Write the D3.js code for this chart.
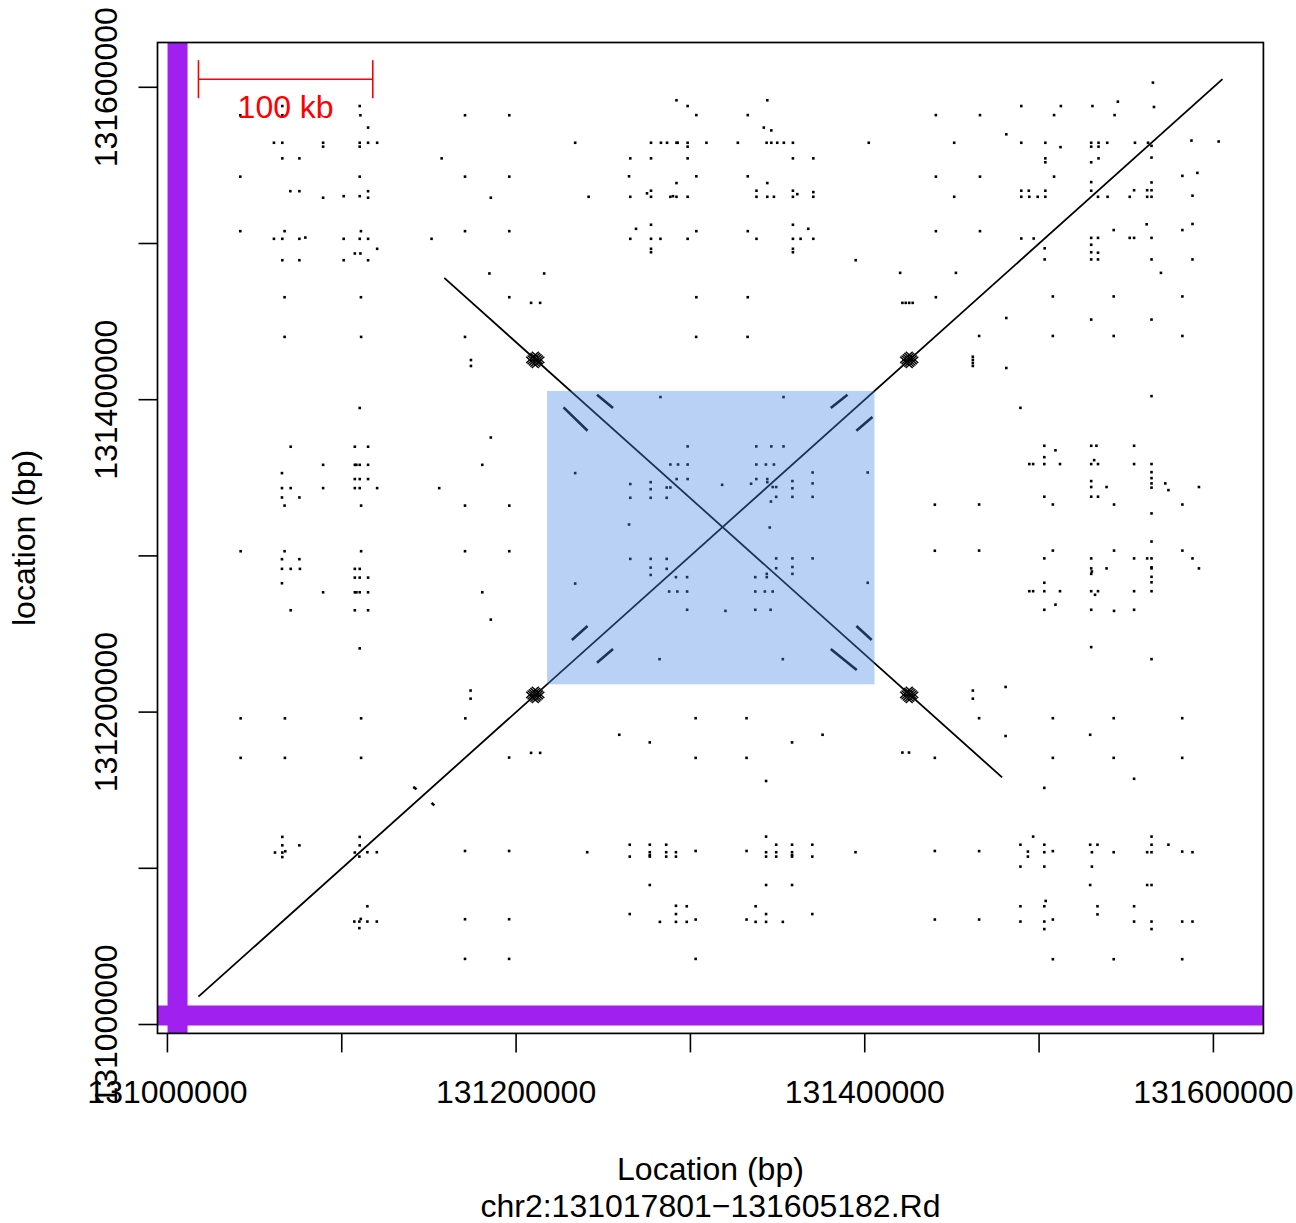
<!DOCTYPE html>
<html>
<head>
<meta charset="utf-8">
<script src="https://cdn.jsdelivr.net/npm/d3@7/dist/d3.min.js"></script>
<style>
  body { margin: 0; background: #fff; }
  svg { display: block; }
  text { font-family: "Liberation Sans", Arial, Helvetica, sans-serif; }
</style>
</head>
<body>
<svg id="chart"></svg>
<script>
const width = 1296;
const height = 1223;

// region (bp) and offsets in kb from 131,000,000
const base = 131000000;
const regionStart = 131017801;
const regionEnd = 131605182;
const regionLabel = "chr2:131017801\u2212131605182.Rd";

const tickValues = [131000000, 131100000, 131200000, 131300000, 131400000, 131500000, 131600000];
const tickLabels = [131000000, 131200000, 131400000, 131600000];

// self alignment: long direct and inverted matches, [x1, y1, x2, y2] in kb
const longLines = [
    [17.8, 17.8, 605.2, 605.2],
    [158.8, 478.0, 478.8, 158.2]
];
// short match fragments, [x1, y1, x2, y2] in kb
const shortSegs = [
    [246.4, 403.2, 255.6, 394.7], [227.2, 395.1, 241.0, 380.1],
    [380.5, 394.7, 390.1, 403.2], [395.2, 380.1, 404.4, 388.9],
    [232.0, 246.2, 241.0, 255.1], [246.4, 231.6, 255.6, 240.4],
    [395.2, 255.1, 404.0, 246.2], [380.5, 240.4, 395.4, 226.9],
    [141.0, 152.1, 142.9, 150.6], [151.5, 141.9, 153.1, 140.3]
];
// tandem repeat blocks (centres, kb)
const tandemBlocks = [[211.0, 211.0], [211.0, 425.5], [425.5, 211.0], [425.5, 425.5]];

// word matches above the diagonal [x, y] kb; a self dot plot shows each one at (x,y) and (y,x)
const matches = [
    [41.8,582.1],[65.9,588.0],[65.9,582.1],[110.3,588.0],[110.7,582.1],[115.1,574.2],
    [61.1,564.5],[65.9,564.5],[89.3,564.5],[89.3,562.0],[110.3,564.5],[110.3,562.0],[115.1,564.5],[120.3,564.5],
    [65.9,554.5],[75.7,554.5],[157.3,554.5],[170.7,582.1],[196.1,582.1],
    [41.8,542.8],[110.3,542.8],[170.7,542.8],[196.1,542.8],
    [70.5,533.5],[75.7,533.5],[89.3,529.3],[101.1,530.3],[110.3,530.3],[115.1,533.5],[115.1,529.3],[185.5,529.3],
    [41.8,507.9],[67.2,507.9],[111.0,507.9],[170.7,507.9],[196.1,507.9],
    [61.1,503.0],[65.9,503.0],[75.7,503.0],[79.1,503.8],[101.1,503.0],[110.3,503.0],[115.1,503.0],[151.5,503.0],
    [120.3,496.6],[107.5,493.6],[110.7,493.6],
    [65.9,489.3],[75.7,489.3],[101.1,489.3],[115.1,489.3],
    [184.7,480.8],[216.1,480.8],[67.2,465.6],[111.0,465.6],[196.1,465.6],[208.6,462.0],[213.8,462.0],
    [67.2,440.2],[111.1,440.2],[170.7,440.2],[174.1,425.4],[174.1,421.6],[110.3,394.7],
    [185.5,375.8],[70.7,369.9],[107.5,369.9],[115.1,369.9],
    [89.3,358.3],[107.5,358.3],[108.4,358.3],[110.3,358.3],[115.1,358.3],[180.6,358.3],
    [65.7,353.0],[107.5,349.2],[110.3,349.2],[115.1,349.2],
    [65.7,343.4],[70.7,343.4],[89.3,343.4],[107.5,343.4],[110.3,343.4],[120.3,343.4],[155.9,343.4],
    [65.7,337.4],[75.7,337.4],[67.2,332.2],[111.1,332.2],[170.7,332.2],[196.1,332.2],
    [42.0,303.0],[67.2,303.0],[111.1,303.0],[170.7,303.0],[196.1,303.0],
    [65.7,297.9],[75.7,297.9],[65.7,291.7],[70.7,291.7],[76.0,291.7],[107.5,291.7],[110.3,291.7],
    [65.7,282.5],[107.5,286.1],[110.3,286.1],[115.1,286.1],
    [89.3,276.7],[107.5,276.7],[108.4,276.7],[110.3,276.7],[115.1,276.7],[180.6,276.7],
    [70.7,265.2],[107.5,265.2],[115.1,265.2],[185.5,259.2],[110.3,240.8],
    [303.3,440.2],[332.8,440.2],[282.8,401.7],[353.4,401.7],
    [298.4,370.1],[337.8,370.1],[346.4,370.1],[353.4,370.1],
    [288.5,358.5],[292.9,358.5],[298.4,358.5],[337.8,358.5],[343.3,358.5],[347.9,358.5],
    [233.9,353.0],[265.5,346.0],[277.2,347.2],[277.2,342.7],[277.2,337.2],[286.4,343.8],[288.5,343.8],
    [265.5,337.2],[286.4,337.2],[292.1,349.2],[298.4,349.2],[337.8,349.2],[344.1,349.2],[344.1,347.2],
    [318.2,345.5],[334.8,346.2],[264.8,320.1],
    [265.5,298.1],[277.2,298.1],[277.2,292.5],[277.2,287.8],[286.4,298.1],[286.4,291.7],[233.9,282.3],
    [565.3,603.0],[489.8,588.0],[512.5,588.0],[530.6,588.0],[545.2,590.8],
    [440.8,582.2],[466.1,582.2],[508.6,582.2],[543.3,582.2],[481.2,569.9],
    [402.3,564.5],[451.3,564.5],[489.8,564.5],[503.6,564.5],[512.3,561.7],
    [529.9,564.5],[534.1,564.5],[529.9,562.0],[534.1,562.0],[539.1,564.5],[555.0,564.5],[562.5,564.5],[565.9,587.4],
    [503.6,554.5],[503.6,552.0],[529.9,552.0],[534.1,554.5],
    [440.8,542.8],[466.1,542.8],[508.6,542.8],[529.9,539.3],
    [489.8,533.8],[494.1,533.8],[503.6,533.8],[489.8,529.9],[494.4,529.9],[499.2,529.9],[503.6,529.9],
    [529.9,533.8],[451.3,529.9],[440.8,507.9],[466.1,507.9],[489.8,503.2],[496.9,503.2],
    [420.3,481.2],[452.3,481.2],[440.8,465.6],
    [421.6,462.0],[423.5,462.0],[425.5,462.0],[427.5,462.0],
    [292.0,591.7],[298.4,588.0],[303.4,582.2],[332.9,582.2],[344.1,591.7],[342.1,574.2],[346.4,572.4],
    [233.9,564.5],[277.4,564.5],[283.1,564.5],[286.6,564.5],[292.0,564.5],[292.7,564.5],[298.4,564.5],[298.4,562.0],
    [309.2,564.5],[327.2,564.5],[343.7,564.5],[346.4,564.5],[349.8,564.5],[353.6,564.5],[358.8,564.5],
    [265.5,554.5],[277.4,554.5],[298.4,554.5],[358.8,554.5],[370.5,554.5],
    [264.8,543.0],[303.4,543.0],[332.9,543.0],[292.0,538.7],[344.1,538.7],
    [241.6,529.9],[265.5,529.9],[275.1,532.1],[277.4,533.8],[277.4,529.9],[288.5,529.9],[290.0,530.3],[292.0,529.9],[298.4,529.9],
    [337.9,533.8],[337.9,529.9],[344.1,529.9],[347.9,529.9],[358.8,533.8],[358.8,529.9],[361.3,531.6],[370.5,532.9],[370.5,529.9],
    [277.4,512.0],[268.8,509.4],[303.4,507.9],[332.9,507.9],[358.8,512.0],[367.6,509.4],
    [265.5,503.0],[277.4,503.0],[282.8,503.0],[298.4,503.0],[337.9,503.0],[358.8,503.0],[363.2,503.0],[370.5,503.0],
    [277.4,496.6],[277.4,494.4],[358.8,496.6],[358.8,494.4],[394.8,489.3],[303.4,465.6],[332.9,465.6],
    [42.0,196.0],[67.4,196.0],[111.1,196.0],[170.9,196.0],[42.0,170.7],[67.4,170.7],[111.1,170.7],
    [65.9,120.1],[65.9,114.7],[61.7,110.1],[65.9,110.1],[67.6,110.9],[65.9,107.2],[75.7,114.7],
    [110.3,120.1],[110.3,114.7],[107.5,110.1],[173.9,208.6],[173.9,213.8]
];

// highlighted block and marked position (kb)
const highlight = [217.8, 405.6];
const markPos = [5.8];
const scaleBarKb = 100;

const svg = d3.select('#chart')
    .attr('width', width)
    .attr('height', height);

const pad = 0.04 * (regionEnd - regionStart);
const x = d3.scaleLinear()
    .domain([regionStart - pad, regionEnd + pad])
    .range([157.5, 1263.4]);
const y = d3.scaleLinear()
    .domain([regionStart - pad, regionEnd + pad])
    .range([1033.4, 42.5]);
const kb = v => base + v * 1000;

const plot = { left: x.range()[0], right: x.range()[1], top: y.range()[1], bottom: y.range()[0] };

svg.append('clipPath').attr('id', 'clip')
    .append('rect')
        .attr('x', plot.left).attr('y', plot.top)
        .attr('width', plot.right - plot.left)
        .attr('height', plot.bottom - plot.top);

const g = svg.append('g').attr('clip-path', 'url(#clip)');

// dots, both orientations
const allDots = matches.concat(matches.map(d => [d[1], d[0]]));
g.selectAll('rect.dot').data(allDots)
    .enter().append('rect')
        .attr('class', 'dot')
        .attr('x', d => x(kb(d[0])) - 1.3)
        .attr('y', d => y(kb(d[1])) - 1.3)
        .attr('width', 2.6)
        .attr('height', 2.6)
        .attr('fill', '#000');

g.selectAll('line.long').data(longLines)
    .enter().append('line')
        .attr('class', 'long')
        .attr('x1', d => x(kb(d[0]))).attr('y1', d => y(kb(d[1])))
        .attr('x2', d => x(kb(d[2]))).attr('y2', d => y(kb(d[3])))
        .attr('stroke', '#000')
        .attr('stroke-width', 1.8);

g.selectAll('line.short').data(shortSegs)
    .enter().append('line')
        .attr('class', 'short')
        .attr('x1', d => x(kb(d[0]))).attr('y1', d => y(kb(d[1])))
        .attr('x2', d => x(kb(d[2]))).attr('y2', d => y(kb(d[3])))
        .attr('stroke', '#000')
        .attr('stroke-width', 2.6);

// tandem blocks drawn as a dense hatch of small direct and inverted matches
const hatch = [-3.2, -1.6, 0, 1.6, 3.2];
const half = 3.6;
tandemBlocks.forEach(function(c) {
    hatch.forEach(function(o) {
        const s = o / 2;
        g.append('line')
            .attr('x1', x(kb(c[0] - half + s))).attr('y1', y(kb(c[1] - half - s)))
            .attr('x2', x(kb(c[0] + half + s))).attr('y2', y(kb(c[1] + half - s)))
            .attr('stroke', '#000').attr('stroke-width', 1.5);
        g.append('line')
            .attr('x1', x(kb(c[0] - half + s))).attr('y1', y(kb(c[1] + half + s)))
            .attr('x2', x(kb(c[0] + half + s))).attr('y2', y(kb(c[1] - half + s)))
            .attr('stroke', '#000').attr('stroke-width', 1.5);
    });
});

// translucent highlight over the matches
g.append('rect')
    .attr('x', x(kb(highlight[0])))
    .attr('y', y(kb(highlight[1])))
    .attr('width', x(kb(highlight[1])) - x(kb(highlight[0])))
    .attr('height', y(kb(highlight[0])) - y(kb(highlight[1])))
    .attr('fill', '#4a86e8')
    .attr('fill-opacity', 0.38);

// frame
svg.append('rect')
    .attr('x', plot.left).attr('y', plot.top)
    .attr('width', plot.right - plot.left)
    .attr('height', plot.bottom - plot.top)
    .attr('fill', 'none')
    .attr('stroke', '#000')
    .attr('stroke-width', 1.7);

// purple marks across the whole plot
markPos.forEach(function(p) {
    g.append('line')
        .attr('x1', x(kb(p))).attr('x2', x(kb(p)))
        .attr('y1', plot.top).attr('y2', plot.bottom)
        .attr('stroke', '#A020F0').attr('stroke-width', 20);
    g.append('line')
        .attr('x1', plot.left).attr('x2', plot.right)
        .attr('y1', y(kb(p))).attr('y2', y(kb(p)))
        .attr('stroke', '#A020F0').attr('stroke-width', 20);
});

// scale bar
const sb = svg.append('g').attr('stroke', '#FF0000').attr('stroke-width', 1.6);
const sbY = y(regionEnd);
sb.append('line')
    .attr('x1', x(regionStart)).attr('x2', x(regionStart + scaleBarKb * 1000))
    .attr('y1', sbY).attr('y2', sbY);
[regionStart, regionStart + scaleBarKb * 1000].forEach(function(v) {
    sb.append('line')
        .attr('x1', x(v)).attr('x2', x(v))
        .attr('y1', sbY - 19).attr('y2', sbY + 19);
});
svg.append('text')
    .attr('x', x(regionStart + scaleBarKb * 500))
    .attr('y', sbY + 39)
    .attr('text-anchor', 'middle')
    .attr('font-size', 32)
    .attr('fill', '#FF0000')
    .text(scaleBarKb + ' kb');

// axes
const axes = svg.append('g').attr('stroke', '#000').attr('stroke-width', 1.6);
tickValues.forEach(function(v) {
    axes.append('line')
        .attr('x1', x(v)).attr('x2', x(v))
        .attr('y1', plot.bottom).attr('y2', plot.bottom + 19);
    axes.append('line')
        .attr('x1', plot.left).attr('x2', plot.left - 19)
        .attr('y1', y(v)).attr('y2', y(v));
});

svg.selectAll('text.xtick').data(tickLabels)
    .enter().append('text')
        .attr('class', 'xtick')
        .attr('x', d => x(d))
        .attr('y', 1103)
        .attr('text-anchor', 'middle')
        .attr('font-size', 32)
        .text(d => d);

svg.selectAll('text.ytick').data(tickLabels)
    .enter().append('text')
        .attr('class', 'ytick')
        .attr('transform', d => 'translate(117,' + y(d) + ') rotate(-90)')
        .attr('text-anchor', 'middle')
        .attr('font-size', 32)
        .text(d => d);

svg.append('text')
    .attr('x', (plot.left + plot.right) / 2)
    .attr('y', 1180)
    .attr('text-anchor', 'middle')
    .attr('font-size', 32)
    .text('Location (bp)');

svg.append('text')
    .attr('x', (plot.left + plot.right) / 2)
    .attr('y', 1217)
    .attr('text-anchor', 'middle')
    .attr('font-size', 32)
    .text(regionLabel);

svg.append('text')
    .attr('transform', 'translate(35,' + (plot.top + plot.bottom) / 2 + ') rotate(-90)')
    .attr('text-anchor', 'middle')
    .attr('font-size', 32)
    .text('location (bp)');
</script>
</body>
</html>
